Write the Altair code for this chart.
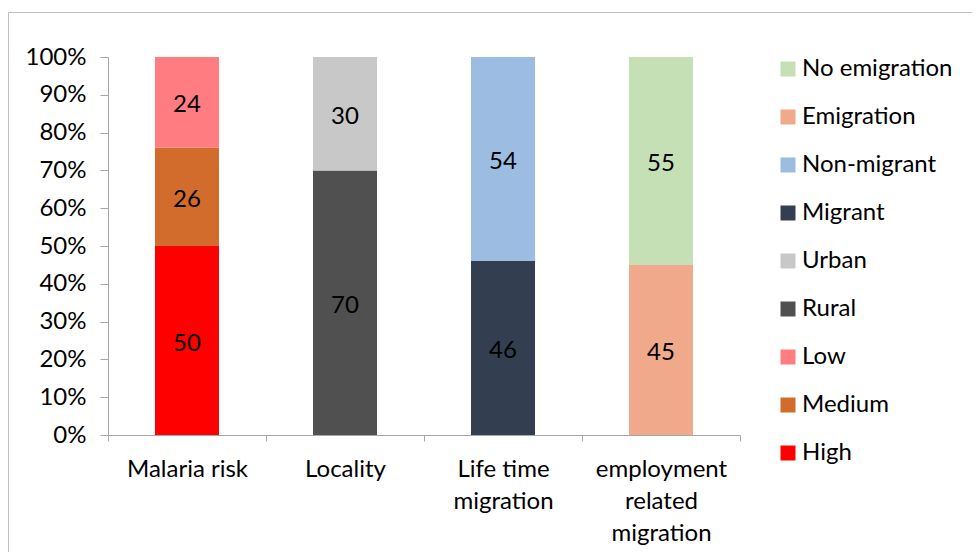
import altair as alt
import pandas as pd

categories = ["Malaria risk", "Malaria risk", "Malaria risk",
              "Locality", "Locality",
              "Life time\nmigration", "Life time\nmigration",
              "employment\nrelated\nmigration", "employment\nrelated\nmigration"]
groups = ["High", "Medium", "Low", "Rural", "Urban", "Migrant", "Non-migrant",
          "Emigration", "No emigration"]
values = [50, 26, 24, 70, 30, 46, 54, 45, 55]
stack_order = [0, 1, 2, 0, 1, 0, 1, 0, 1]
y_ticks = [0, 0.1, 0.2, 0.3, 0.4, 0.5, 0.6, 0.7, 0.8, 0.9, 1.0]

cat_order = ["Malaria risk", "Locality", "Life time\nmigration", "employment\nrelated\nmigration"]
legend_order = ["No emigration", "Emigration", "Non-migrant", "Migrant", "Urban",
                "Rural", "Low", "Medium", "High"]
legend_colors = ["#C5E0B4", "#F0A98A", "#9CBCE2", "#333F50", "#C8C8C8",
                 "#505050", "#FF7C80", "#D26C2C", "#FF0000"]

df = pd.DataFrame({"category": categories, "group": groups,
                   "value": values, "ord": stack_order})

FONT = "Lato"
FS = 24

base = alt.Chart(df).transform_stack(
    stack="value", groupby=["category"], as_=["v0", "v1"],
    sort=[alt.SortField("ord", order="ascending")], offset="normalize"
).transform_calculate(mid="(datum.v0 + datum.v1) / 2")

x_axis = alt.Axis(labelAngle=0, tickBand="extent", tickSize=6,
                  labelPadding=16, labelLineHeight=32,
                  labelExpr="split(datum.label, '\\n')",
                  domainColor="#A6A6A6", tickColor="#A6A6A6",
                  labelFontSize=FS, labelColor="#000000", labelFont=FONT,
                  labelBaseline="top", labelOverlap=False)
y_axis = alt.Axis(values=y_ticks, format=".0%",
                  grid=False, tickSize=8, labelPadding=14,
                  labelOverlap=False, labelFlush=False,
                  domainColor="#A6A6A6", tickColor="#A6A6A6",
                  labelFontSize=FS, labelColor="#000000", labelFont=FONT)
x_scale = alt.Scale(paddingInner=0, paddingOuter=0)
y_scale = alt.Scale(domain=[0, 1])

bars = base.mark_bar(size=64).encode(
    x=alt.X("category:N", sort=cat_order, title=None, scale=x_scale, axis=x_axis),
    y=alt.Y("v0:Q", title=None, scale=y_scale, axis=y_axis),
    y2="v1:Q",
    color=alt.Color("group:N", scale=alt.Scale(domain=legend_order, range=legend_colors),
                    sort=legend_order,
                    legend=alt.Legend(title=None, orient="none", legendX=668, legendY=0,
                                      symbolType="square", symbolSize=225,
                                      symbolStrokeWidth=0, symbolOpacity=1,
                                      labelFontSize=FS, labelFont=FONT,
                                      labelColor="#000000", rowPadding=24,
                                      labelOffset=2, padding=0)),
)

labels = base.mark_text(fontSize=FS, font=FONT, color="#000000", dy=3).encode(
    x=alt.X("category:N", sort=cat_order, title=None, scale=x_scale, axis=x_axis),
    y=alt.Y("mid:Q", title=None, scale=y_scale, axis=y_axis),
    text=alt.Text("value:Q"),
)

border = alt.Chart(pd.DataFrame({"k": [0]})).mark_rect(
    fill=None, stroke="#BFBFBF", strokeWidth=1, clip=False
).encode(x=alt.value(-99.5), x2=alt.value(1000), y=alt.value(-44.5), y2=alt.value(600))

chart = alt.layer(border, bars, labels).properties(
    width=632, height=378,
    background="#FFFFFF",
    autosize=alt.AutoSizeParams(type="none"),
    padding={"left": 100, "top": 49, "right": 232, "bottom": 117},
).configure_view(stroke=None)

chart.save("out.html", embed_options={"renderer": "svg", "actions": False})
